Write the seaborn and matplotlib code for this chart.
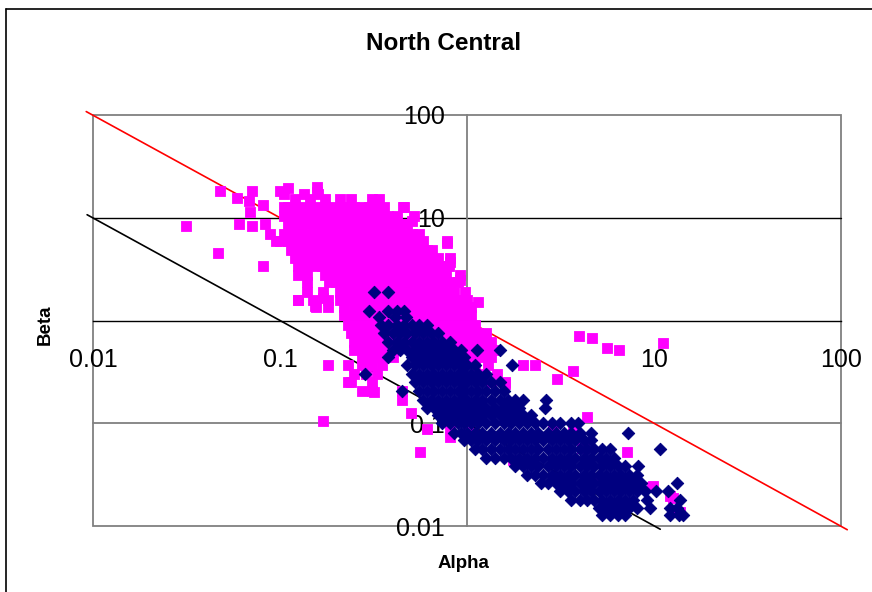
import matplotlib
matplotlib.use("Agg")
import matplotlib.pyplot as plt
from matplotlib.lines import Line2D
from matplotlib.patches import Rectangle
import seaborn as sns
import pandas as pd

# ---------------- data ----------------
title = "North Central"
x_label = "Alpha"
y_label = "Beta"
tick_values = [0.01, 0.1, 1, 10, 100]
tick_labels = ["0.01", "0.1", "1", "10", "100"]

# reference lines
red_alpha = [0.0092, 0.1, 1, 10, 108]
red_beta = [108.0, 10.0, 1.0, 0.1, 0.0092]
black_alpha = [0.0093, 0.08, 0.1, 1, 10.8]
black_beta = [10.7, 1.25, 1.0, 0.1, 0.0093]

# pink squares: dense cloud, row by row (beta level -> alphas)
pink_row_beta = [17.0, 15.1, 12.6, 10.3, 8.6, 7.0, 5.9, 4.9, 4.1, 3.4, 2.8, 2.35,
                 1.9, 1.6, 1.34, 1.12, 0.91, 0.76, 0.62, 0.52, 0.44, 0.365, 0.30,
                 0.25, 0.204]
pink_row_alpha = [
    [0.105, 0.135, 0.16],
    [0.12, 0.145, 0.175, 0.21, 0.24, 0.31, 0.34],
    [0.105, 0.11, 0.12, 0.13, 0.145, 0.16, 0.175, 0.19, 0.21, 0.23, 0.25, 0.275, 0.30, 0.33, 0.36, 0.46],
    [0.105, 0.115, 0.125, 0.137, 0.152, 0.167, 0.182, 0.2, 0.22, 0.24, 0.26, 0.29, 0.315, 0.345, 0.38, 0.42, 0.52],
    [0.11, 0.12, 0.13, 0.145, 0.16, 0.175, 0.19, 0.21, 0.23, 0.25, 0.275, 0.30, 0.33, 0.36, 0.40, 0.44, 0.48],
    [0.088, 0.105, 0.115, 0.125, 0.137, 0.152, 0.167, 0.182, 0.2, 0.22, 0.24, 0.26, 0.29, 0.315, 0.345, 0.38, 0.42, 0.46, 0.505, 0.555],
    [0.095, 0.10, 0.11, 0.12, 0.13, 0.145, 0.16, 0.175, 0.19, 0.21, 0.23, 0.25, 0.275, 0.30, 0.33, 0.36, 0.40, 0.44, 0.48, 0.53, 0.58, 0.78],
    [0.115, 0.125, 0.137, 0.152, 0.167, 0.182, 0.2, 0.22, 0.24, 0.26, 0.29, 0.315, 0.345, 0.38, 0.42, 0.46, 0.505, 0.555, 0.61, 0.65],
    [0.12, 0.13, 0.145, 0.16, 0.175, 0.19, 0.21, 0.23, 0.25, 0.275, 0.30, 0.33, 0.36, 0.40, 0.44, 0.48, 0.53, 0.58, 0.64, 0.70, 0.81],
    [0.125, 0.137, 0.152, 0.167, 0.182, 0.2, 0.22, 0.24, 0.26, 0.29, 0.315, 0.345, 0.38, 0.42, 0.46, 0.505, 0.555, 0.61, 0.67, 0.72, 0.80],
    [0.125, 0.14, 0.175, 0.19, 0.21, 0.23, 0.25, 0.275, 0.30, 0.33, 0.36, 0.40, 0.44, 0.48, 0.53, 0.58, 0.64, 0.70, 0.77, 0.92],
    [0.14, 0.182, 0.2, 0.22, 0.24, 0.26, 0.29, 0.315, 0.345, 0.38, 0.42, 0.46, 0.505, 0.555, 0.61, 0.67, 0.735, 0.81, 0.9],
    [0.14, 0.17, 0.21, 0.23, 0.25, 0.275, 0.30, 0.33, 0.36, 0.40, 0.44, 0.48, 0.53, 0.58, 0.64, 0.70, 0.77, 0.85, 0.97],
    [0.125, 0.15, 0.18, 0.21, 0.22, 0.24, 0.26, 0.29, 0.315, 0.345, 0.38, 0.42, 0.46, 0.505, 0.555, 0.61, 0.67, 0.735, 0.81, 0.89, 1.0],
    [0.155, 0.18, 0.22, 0.25, 0.275, 0.30, 0.33, 0.36, 0.40, 0.44, 0.48, 0.53, 0.58, 0.64, 0.70, 0.77, 0.85, 0.93, 1.0],
    [0.22, 0.24, 0.26, 0.29, 0.315, 0.345, 0.38, 0.42, 0.46, 0.505, 0.555, 0.61, 0.67, 0.735, 0.81, 0.89, 0.965, 1.05],
    [0.23, 0.25, 0.275, 0.30, 0.33, 0.36, 0.40, 0.44, 0.48, 0.53, 0.58, 0.64, 0.70, 0.77, 0.85, 0.93, 1.0, 1.1],
    [0.24, 0.26, 0.29, 0.315, 0.345, 0.38, 0.42, 0.46, 0.505, 0.555, 0.61, 0.67, 0.735, 0.81, 0.89, 0.965, 1.05, 1.15, 1.27],
    [0.25, 0.275, 0.30, 0.33, 0.36, 0.40, 0.44, 0.48, 0.53, 0.58, 0.64, 0.70, 0.77, 0.85, 0.93, 1.0, 1.1, 1.2, 1.35],
    [0.25, 0.275, 0.30, 0.33, 0.36, 0.40, 0.89, 0.965, 1.05, 1.15, 1.27, 1.42],
    [0.275, 0.30, 0.33, 0.36, 0.40, 0.93, 1.0, 1.1, 1.2, 1.35],
    [0.18, 0.23, 0.275, 0.31, 0.35, 1.1, 1.3, 2.0, 2.3],
    [0.25, 0.29, 0.33, 1.2, 1.45],
    [0.24, 0.31, 1.35, 1.6],
    [0.275, 0.31, 0.45],
]
# pink squares: scattered points
pink_out_alpha = [0.048, 0.071, 0.10, 0.11, 0.157, 0.158, 0.059, 0.068, 0.069, 0.081,
                  0.0316, 0.06, 0.071, 0.083, 0.0465, 0.081, 0.125, 0.154, 0.17,
                  0.455, 0.51, 0.78, 0.81, 0.92, 1.15, 1.05,
                  3.97, 4.66, 5.6, 6.5, 11.2, 3.69, 3.03, 1.6, 1.15, 4.38, 3.69, 2.88,
                  4.2, 7.2, 3.03, 4.38, 4.95, 9.76, 12.6, 13.4, 1.01, 0.81, 2.0, 0.56,
                  0.17, 0.50, 0.61, 0.81, 1.0, 0.45, 1.76, 2.88, 4.1, 12.2, 13.8, 9.9,
                  0.32, 0.23]
pink_out_beta = [18.4, 18.4, 18.4, 19.5, 19.7, 18.0, 15.4, 14.7, 11.4, 13.2,
                 8.3, 8.6, 8.3, 8.6, 4.55, 3.4, 1.57, 1.37, 1.67,
                 12.6, 9.2, 5.7, 3.75, 2.5, 1.5, 1.35,
                 0.70, 0.68, 0.546, 0.52, 0.60, 0.326, 0.27, 0.24, 0.27, 0.116, 0.091, 0.087,
                 0.058, 0.052, 0.028, 0.0265, 0.028, 0.0242, 0.0189, 0.0138, 0.083, 0.074, 0.0415, 0.053,
                 0.104, 0.127, 0.087, 0.091, 0.074, 0.17, 0.044, 0.028, 0.058, 0.0194, 0.0136, 0.0243,
                 0.20, 0.25]

# navy diamonds, row by row (beta level -> alphas)
navy_row_beta = [1.9, 1.25, 1.07, 0.91, 0.76, 0.62, 0.52, 0.44, 0.365, 0.30, 0.25,
                 0.204, 0.17, 0.142, 0.119, 0.1, 0.081, 0.068, 0.0556, 0.0464, 0.038,
                 0.0317, 0.0265, 0.0217, 0.0181, 0.0151, 0.0129]
navy_row_alpha = [
    [0.32, 0.38],
    [0.30, 0.38, 0.42, 0.46],
    [0.34, 0.41, 0.47],
    [0.345, 0.38, 0.42, 0.46, 0.505, 0.555, 0.61],
    [0.36, 0.40, 0.44, 0.48, 0.53, 0.58, 0.64, 0.70],
    [0.38, 0.42, 0.46, 0.505, 0.555, 0.61, 0.67, 0.735, 0.81],
    [0.40, 0.44, 0.48, 0.53, 0.58, 0.64, 0.70, 0.77, 0.85, 0.93, 1.13, 1.5],
    [0.38, 0.505, 0.555, 0.61, 0.67, 0.735, 0.81, 0.89, 0.965],
    [0.48, 0.53, 0.58, 0.64, 0.70, 0.77, 0.85, 0.93, 1.0, 1.1, 1.75],
    [0.285, 0.505, 0.555, 0.61, 0.67, 0.735, 0.81, 0.89, 0.965, 1.05, 1.15, 1.27],
    [0.53, 0.58, 0.64, 0.70, 0.77, 0.85, 0.93, 1.0, 1.1, 1.2, 1.35, 1.5],
    [0.45, 0.555, 0.61, 0.67, 0.735, 0.81, 0.89, 0.965, 1.05, 1.15, 1.27, 1.42, 1.57],
    [0.58, 0.64, 0.70, 0.77, 0.85, 0.93, 1.0, 1.1, 1.2, 1.35, 1.5, 1.65, 1.8, 2.0, 2.65],
    [0.61, 0.67, 0.735, 0.81, 0.89, 0.965, 1.05, 1.15, 1.27, 1.42, 1.57, 1.72, 1.9, 2.6],
    [0.70, 0.77, 0.85, 0.93, 1.0, 1.1, 1.2, 1.35, 1.5, 1.65, 1.8, 2.0, 2.2],
    [0.735, 0.81, 0.89, 0.965, 1.05, 1.15, 1.27, 1.42, 1.57, 1.72, 1.9, 2.1, 2.3, 2.55, 2.85, 3.15, 3.6, 3.9],
    [0.85, 0.93, 1.0, 1.1, 1.2, 1.35, 1.5, 1.65, 1.8, 2.0, 2.2, 2.4, 2.7, 3.0, 3.3, 3.6, 4.0, 4.6, 7.3],
    [0.965, 1.05, 1.15, 1.27, 1.42, 1.57, 1.72, 1.9, 2.1, 2.3, 2.55, 2.85, 3.15, 3.45, 3.8, 4.2, 4.6],
    [1.1, 1.2, 1.35, 1.5, 1.65, 1.8, 2.0, 2.2, 2.4, 2.7, 3.0, 3.3, 3.6, 4.0, 4.4, 4.8, 5.3, 5.8, 10.8],
    [1.27, 1.42, 1.57, 1.72, 1.9, 2.1, 2.3, 2.55, 2.85, 3.15, 3.45, 3.8, 4.2, 4.6, 5.05, 5.55, 6.1],
    [1.8, 2.0, 2.2, 2.4, 2.7, 3.0, 3.3, 3.6, 4.0, 4.4, 4.8, 5.3, 5.8, 6.4, 7.0, 8.2],
    [2.1, 2.3, 2.55, 2.85, 3.15, 3.45, 3.8, 4.2, 4.6, 5.05, 5.55, 6.1, 6.7, 7.35, 8.1],
    [2.5, 2.7, 3.0, 3.3, 3.6, 4.0, 4.4, 4.8, 5.3, 5.8, 6.4, 7.0, 7.7, 8.5, 13.2],
    [3.15, 3.45, 3.8, 4.2, 4.6, 5.05, 5.55, 6.1, 6.7, 7.35, 8.1, 8.9, 10.3, 11.9],
    [3.6, 4.0, 4.4, 4.8, 5.3, 5.8, 6.4, 7.0, 7.7, 9.2, 13.8],
    [5.05, 5.55, 6.1, 6.7, 7.35, 8.1, 9.5, 12.2, 13.3],
    [5.3, 5.8, 6.4, 7.0, 12.2, 13.6, 14.3],
]

# ---------------- build tables ----------------
pink_alpha = [a for row in pink_row_alpha for a in row] + pink_out_alpha
pink_beta = [b for b, row in zip(pink_row_beta, pink_row_alpha) for _ in row] + pink_out_beta
navy_alpha = [a for row in navy_row_alpha for a in row]
navy_beta = [b for b, row in zip(navy_row_beta, navy_row_alpha) for _ in row]
pink_df = pd.DataFrame({"alpha": pink_alpha, "beta": pink_beta})
navy_df = pd.DataFrame({"alpha": navy_alpha, "beta": navy_beta})
red_df = pd.DataFrame({"alpha": red_alpha, "beta": red_beta})
black_df = pd.DataFrame({"alpha": black_alpha, "beta": black_beta})

# ---------------- drawing ----------------
sns.set_theme(style="white")
plt.rcParams["font.family"] = ["Liberation Sans", "DejaVu Sans"]

W, H = 872, 592
fig = plt.figure(figsize=(W / 100, H / 100), dpi=100)
fig.patch.set_facecolor("white")
ax = fig.add_axes([93 / W, 66 / H, 748 / W, 411 / H])
ax.set_xscale("log")
ax.set_yscale("log")
ax.set_xlim(0.01, 100)
ax.set_ylim(0.01, 100)
ax.set_facecolor("white")

# horizontal gridlines
ax.axhline(10, color="black", lw=1.0, zorder=0.5)
ax.axhline(0.1, color="#808080", lw=1.3, zorder=0.5)
# plot-area border
ax.add_patch(Rectangle((0, 0), 1, 1, transform=ax.transAxes, fill=False,
                       edgecolor="#808080", lw=1.3, zorder=0.4, clip_on=False))

sns.lineplot(data=red_df, x="alpha", y="beta", color="red", lw=1.2,
             sort=False, estimator=None, ax=ax, zorder=1)
sns.lineplot(data=black_df, x="alpha", y="beta", color="black", lw=1.2,
             sort=False, estimator=None, ax=ax, zorder=1)
for ln in ax.lines:
    ln.set_clip_on(False)

sns.scatterplot(data=pink_df, x="alpha", y="beta", marker="s", s=50,
                color="#FF00FF", edgecolor="#FF00FF", linewidth=0.6, ax=ax, zorder=3)
sns.scatterplot(data=navy_df, x="alpha", y="beta", marker="D", s=40,
                color="#000080", edgecolor="#000080", linewidth=0.7, ax=ax, zorder=4)

# axes cross at 1,1 (spreadsheet style)
for s in ["top", "right"]:
    ax.spines[s].set_visible(False)
ax.spines["left"].set_position(("data", 1))
ax.spines["bottom"].set_position(("data", 1))
ax.spines["left"].set_color("#808080")
ax.spines["left"].set_linewidth(1.3)
ax.spines["bottom"].set_color("black")
ax.spines["bottom"].set_linewidth(1.0)
ax.spines["left"].set_zorder(0.6)
ax.spines["bottom"].set_zorder(0.6)

ax.set_xticks(tick_values)
ax.set_xticklabels(tick_labels)
ax.set_yticks(tick_values)
ax.set_yticklabels(tick_labels)
ax.minorticks_off()
ax.tick_params(axis="x", which="major", direction="out", length=5, width=1,
               color="black", pad=15, labelsize=18, labelcolor="black")
ax.tick_params(axis="y", which="major", direction="out", length=5, width=1,
               color="black", pad=11, labelsize=18, labelcolor="black")
ax.set_xlabel("")
ax.set_ylabel("")

fig.text(444 / W, 1 - 44 / H, title, ha="center", va="center",
         fontsize=17.5, fontweight="bold", color="black")
fig.text(463 / W, 1 - 563 / H, x_label, ha="center", va="center",
         fontsize=13.5, fontweight="bold", color="black")
fig.text(45 / W, 1 - 325 / H, y_label, ha="center", va="center", rotation=90,
         fontsize=13.5, fontweight="bold", color="black")

# outer chart frame (left and top edges visible in the crop)
fig.add_artist(Line2D([5.5 / W, 5.5 / W], [0, 1 - 8.5 / H], color="black", lw=1.2))
fig.add_artist(Line2D([5.5 / W, 1], [1 - 8.5 / H, 1 - 8.5 / H], color="black", lw=1.2))

fig.savefig("out.png", dpi=100)
